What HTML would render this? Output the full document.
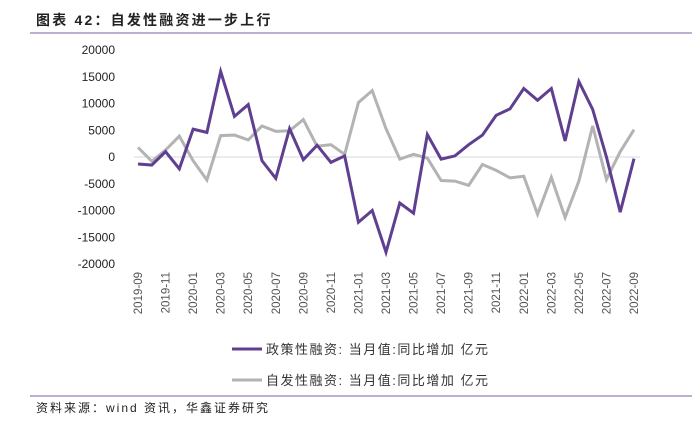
<!DOCTYPE html>
<html><head><meta charset="utf-8"><style>
body{margin:0;width:698px;height:420px;background:#fff;overflow:hidden;font-family:"Liberation Sans","Noto Sans CJK SC",sans-serif;}
svg text{font-family:"Liberation Sans","Noto Sans CJK SC",sans-serif;}
</style></head><body>
<svg width="698" height="420">
<text x="36" y="25" font-size="14" font-weight="bold" fill="#222" letter-spacing="2.2">图表 42：自发性融资进一步上行</text>
<line x1="30" y1="33" x2="692" y2="33" stroke="#7a5fa0" stroke-width="1"/>
<g id="yaxis"></g>
<g id="xaxis"></g>
<g id="series"></g>
<g>
<line x1="232" y1="349" x2="262" y2="349" stroke="#5f3f8f" stroke-width="3"/>
<text x="266" y="354" font-size="13" fill="#333" letter-spacing="1.5">政策性融资: 当月值:同比增加 亿元</text></g>
<g>
<line x1="232" y1="380" x2="262" y2="380" stroke="#b3b3b3" stroke-width="3"/>
<text x="266" y="385" font-size="13" fill="#333" letter-spacing="1.5">自发性融资: 当月值:同比增加 亿元</text></g>
<line x1="30" y1="396" x2="692" y2="396" stroke="#7a5fa0" stroke-width="1"/>
<text x="36" y="412" font-size="12" fill="#222" letter-spacing="2">资料来源：wind 资讯，华鑫证券研究</text>
</svg>
<script>
const categories=["2019-09","2019-10","2019-11","2019-12","2020-01","2020-02","2020-03","2020-04","2020-05","2020-06","2020-07","2020-08","2020-09","2020-10","2020-11","2020-12","2021-01","2021-02","2021-03","2021-04","2021-05","2021-06","2021-07","2021-08","2021-09","2021-10","2021-11","2021-12","2022-01","2022-02","2022-03","2022-04","2022-05","2022-06","2022-07","2022-08","2022-09"];
const policyValues=[-1300,-1500,1000,-2200,5200,4600,16000,7600,9800,-700,-4000,5300,-500,2200,-1000,200,-12200,-10000,-17800,-8600,-10500,4200,-400,200,2300,4100,7800,9000,12800,10600,12800,3000,14100,8900,0,-10300,-300];
const spontaneousValues=[1800,-800,1300,3900,-700,-4300,4000,4100,3200,5800,4800,4900,7000,2000,2300,500,10200,12400,5300,-400,500,-200,-4400,-4500,-5300,-1400,-2500,-3900,-3600,-10700,-3800,-11300,-4500,5800,-4200,1000,5100];
const yTicks=[20000,15000,10000,5000,0,-5000,-10000,-15000,-20000];
const NS="http://www.w3.org/2000/svg";
const x0=138,x1=634,yTop=50,yBot=264;
const xs=i=>x0+(x1-x0)*i/(categories.length-1);
const ys=v=>yTop+(20000-v)/40000*(yBot-yTop);
function mk(tag,attrs,parent){const e=document.createElementNS(NS,tag);for(const k in attrs)e.setAttribute(k,attrs[k]);parent.appendChild(e);return e;}
const ya=document.getElementById('yaxis'),xa=document.getElementById('xaxis'),sg=document.getElementById('series');
yTicks.forEach(v=>{const t=mk('text',{x:115,y:ys(v)+4,'font-size':12,fill:'#222','text-anchor':'end'},ya);t.textContent=v;

});
const zl=mk('line',{x1:x0-4,x2:x1+6,y1:ys(0),y2:ys(0),stroke:'#d9d9d9','stroke-width':1},xa);


categories.forEach((c,i)=>{if(i%2)return;const x=xs(i),y=272;const t=mk('text',{x:x+4,y:y,'font-size':11.5,fill:'#555','text-anchor':'end',transform:`rotate(-90 ${x+4} ${y})`},xa);t.textContent=c;

});
function line(vals,color,name){const p=mk('polyline',{points:vals.map((v,i)=>xs(i)+','+ys(v)).join(' '),fill:'none',stroke:color,'stroke-width':3,'stroke-linejoin':'miter'},sg);

}
line(spontaneousValues,'#b3b3b3','spontaneous-financing-line');
line(policyValues,'#5f3f8f','policy-financing-line');
</script>
</body></html>
